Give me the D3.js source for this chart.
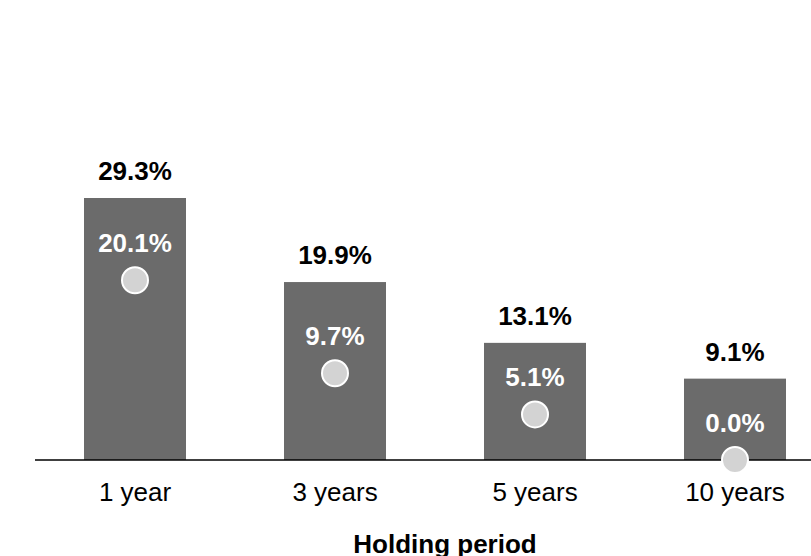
<!DOCTYPE html>
<html>
<head>
<meta charset="utf-8">
<script src="https://cdn.jsdelivr.net/npm/d3@7"></script>
<style>
  body { margin: 0; background: #fff; }
  svg text { font-family: "Liberation Sans", Arial, sans-serif; }
</style>
</head>
<body>
<div id="chart"></div>
<script>
// Data
const periods = ['1 year', '3 years', '5 years', '10 years'];
const barValues = [29.3, 19.9, 13.1, 9.1];
const dotValues = [20.1, 9.7, 5.1, 0.0];
const xTitle = 'Holding period';

const width = 811;
const height = 556;
const baseline = 460;

const svg = d3.select('#chart')
  .append('svg')
  .attr('width', width)
  .attr('height', height);

const rows = periods.map((p, i) => ({ period: p, bar: barValues[i], dot: dotValues[i] }));

// x: band scale, y: linear scale for percentages
const x = d3.scaleBand()
  .domain(periods)
  .range([35, 835])
  .paddingInner(0.49)
  .paddingOuter(0.245);

const y = d3.scaleLinear()
  .domain([0, 29.3])
  .range([baseline, 198]);

// Bars
svg.selectAll('.bar')
  .data(rows)
  .enter()
  .append('rect')
  .attr('class', 'bar')
  .attr('x', (d) => x(d.period))
  .attr('y', (d) => y(d.bar))
  .attr('width', x.bandwidth())
  .attr('height', (d) => y(0) - y(d.bar))
  .attr('fill', '#6b6b6b');

// Axis line and tick labels
const axis = svg.append('g')
  .attr('transform', `translate(0,${baseline})`)
  .call(d3.axisBottom(x).tickSize(0).tickPadding(0));
axis.select('.domain').remove();
axis.append('line')
  .attr('x1', 35).attr('x2', width)
  .attr('y1', 0).attr('y2', 0)
  .attr('stroke', '#000')
  .attr('stroke-width', 1.3);
axis.selectAll('.tick text')
  .attr('dy', null)
  .attr('y', 41)
  .attr('fill', '#000')
  .style('font-size', '26px')
  .style('font-family', '"Liberation Sans", Arial, sans-serif');
axis.raise();

// Bar value labels
svg.selectAll('.bar-label')
  .data(rows)
  .enter()
  .append('text')
  .attr('class', 'bar-label')
  .attr('x', (d) => x(d.period) + x.bandwidth() / 2)
  .attr('y', (d) => y(d.bar) - 18)
  .attr('text-anchor', 'middle')
  .style('font-size', '26px')
  .style('font-weight', 'bold')
  .attr('fill', '#000')
  .text((d) => d.bar.toFixed(1) + '%');

// Dot value labels
svg.selectAll('.dot-label')
  .data(rows)
  .enter()
  .append('text')
  .attr('class', 'dot-label')
  .attr('x', (d) => x(d.period) + x.bandwidth() / 2)
  .attr('y', (d) => y(d.dot) - 28)
  .attr('text-anchor', 'middle')
  .style('font-size', '26px')
  .style('font-weight', 'bold')
  .attr('fill', '#fff')
  .text((d) => d.dot.toFixed(1) + '%');

// Dots
svg.selectAll('.dot')
  .data(rows)
  .enter()
  .append('circle')
  .attr('class', 'dot')
  .attr('cx', (d) => x(d.period) + x.bandwidth() / 2)
  .attr('cy', (d) => y(d.dot))
  .attr('r', 13)
  .attr('fill', '#d3d3d3')
  .attr('stroke', '#fff')
  .attr('stroke-width', 2);

// Axis title (partly below the window edge, as in the reference)
svg.append('text')
  .attr('x', 445)
  .attr('y', 553)
  .attr('text-anchor', 'middle')
  .style('font-size', '26px')
  .style('font-weight', 'bold')
  .attr('fill', '#000')
  .text(xTitle);
</script>
</body>
</html>
